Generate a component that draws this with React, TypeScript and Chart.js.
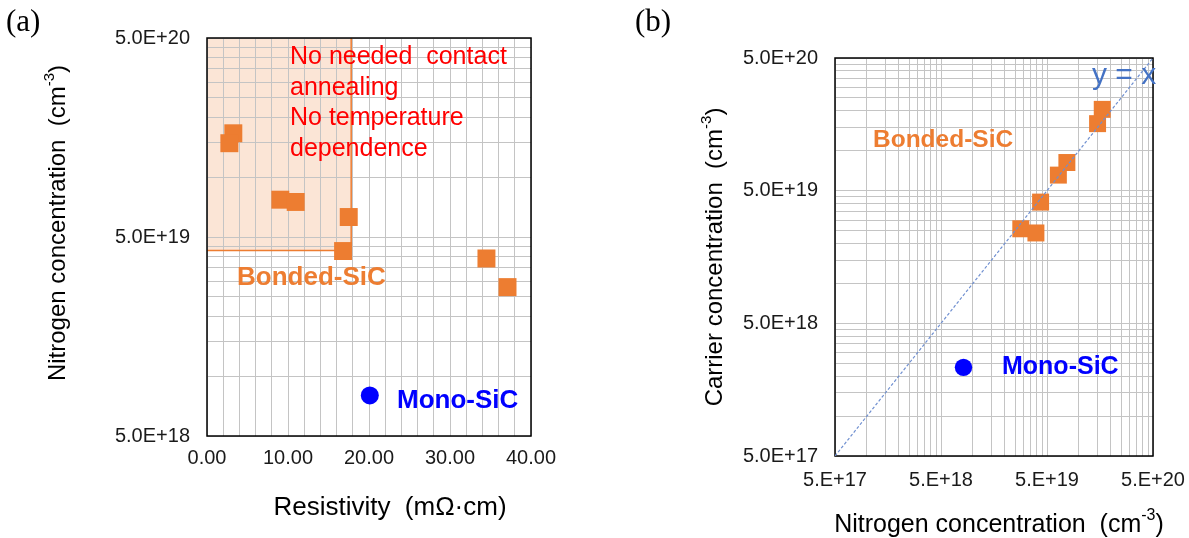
import React, { useEffect, useRef } from "react";
import { Chart, registerables } from "chart.js";

Chart.register(...registerables);

const FONT = "'Liberation Sans', Arial, Helvetica, sans-serif";
const SERIF = "'Liberation Serif', 'Times New Roman', serif";
const GRID = "#c4c4c4";
const TICK = "#1a1a1a";
const ORANGE = "#ED7D31";
const BLUE = "#0000FF";

// ---------- Panel (a) data ----------
const resistivityBonded = [3.25, 2.76, 9.05, 10.95, 17.5, 16.8, 34.5, 37.1];
const nitrogenBondedA = [1.66e20, 1.48e20, 7.7e19, 7.5e19, 6.3e19, 4.25e19, 3.9e19, 2.8e19];
const resistivityMono = [20.1];
const nitrogenMonoA = [8.0e18];
const shadeRegionA = [0, 17.8, 4.28e19, 5e20]; // xMin, xMax, yMin, yMax
const xTickValuesA = [0, 10, 20, 30, 40];
const xTickLabelsA = ["0.00", "10.00", "20.00", "30.00", "40.00"];
const yTickValuesA = [5e18, 5e19, 5e20];
const yTickLabelsA = ["5.0E+18", "5.0E+19", "5.0E+20"];
const noteLinesA = ["No needed  contact", "annealing", "No temperature", "dependence"];

// ---------- Panel (b) data ----------
const nitrogenBondedB = [1.66e20, 1.5e20, 7.7e19, 6.4e19, 4.35e19, 2.83e19, 3.93e19];
const carrierBonded = [2.05e20, 1.6e20, 8.15e19, 6.55e19, 4.1e19, 2.58e19, 2.4e19];
const nitrogenMonoB = [8.15e18];
const carrierMono = [2.33e18];
const identityLine = [5e17, 5e20];
const tickValuesB = [5e17, 5e18, 5e19, 5e20];
const xTickLabelsB = ["5.E+17", "5.E+18", "5.E+19", "5.E+20"];
const yTickLabelsB = ["5.0E+17", "5.0E+18", "5.0E+19", "5.0E+20"];

function logGrid(starts: number[]): number[] {
  const out: number[] = [];
  for (let i = 0; i < starts.length - 1; i++) {
    for (let k = 1; k <= 9; k++) out.push(starts[i] * k);
  }
  out.push(starts[starts.length - 1]);
  return out;
}

function labelFor(value: number, vals: number[], labels: string[]): string {
  const i = vals.findIndex((v) => Math.abs(value - v) <= 1e-6 * Math.max(Math.abs(v), 1));
  return i >= 0 ? labels[i] : "";
}

type Seg = { t: string; sup?: boolean };

function drawRich(
  ctx: CanvasRenderingContext2D,
  segs: Seg[],
  cx: number,
  cy: number,
  size: number,
  color: string,
  rotate: boolean
) {
  ctx.save();
  ctx.translate(cx, cy);
  if (rotate) ctx.rotate(-Math.PI / 2);
  const supSize = Math.round(size * 0.62);
  const widths = segs.map((s) => {
    ctx.font = `${s.sup ? supSize : size}px ${FONT}`;
    return ctx.measureText(s.t).width;
  });
  const total = widths.reduce((a, b) => a + b, 0);
  let x = -total / 2;
  ctx.fillStyle = color;
  ctx.textAlign = "left";
  ctx.textBaseline = "middle";
  segs.forEach((s, i) => {
    ctx.font = `${s.sup ? supSize : size}px ${FONT}`;
    ctx.fillText(s.t, x, s.sup ? -size * 0.36 : 0);
    x += widths[i];
  });
  ctx.restore();
}

function drawText(
  ctx: CanvasRenderingContext2D,
  text: string,
  x: number,
  y: number,
  font: string,
  color: string,
  baseline: CanvasTextBaseline = "middle"
) {
  ctx.save();
  ctx.font = font;
  ctx.fillStyle = color;
  ctx.textAlign = "left";
  ctx.textBaseline = baseline;
  ctx.fillText(text, x, y);
  ctx.restore();
}

function drawFrame(chart: any) {
  const { ctx, chartArea } = chart;
  ctx.save();
  ctx.strokeStyle = "#000";
  ctx.lineWidth = 1.5;
  ctx.strokeRect(chartArea.left, chartArea.top, chartArea.right - chartArea.left, chartArea.bottom - chartArea.top);
  ctx.restore();
}

const tickFont = { family: FONT, size: 20 };

export default function App() {
  const refA = useRef<HTMLCanvasElement | null>(null);
  const refB = useRef<HTMLCanvasElement | null>(null);

  useEffect(() => {
    const gridA = logGrid(yTickValuesA);
    const gridB = logGrid(tickValuesB);

    const pluginA = {
      id: "decorA",
      beforeDraw(chart: any) {
        const { ctx, scales } = chart;
        const x0 = scales.x.getPixelForValue(shadeRegionA[0]);
        const x1 = scales.x.getPixelForValue(shadeRegionA[1]);
        const y0 = scales.y.getPixelForValue(shadeRegionA[3]);
        const y1 = scales.y.getPixelForValue(shadeRegionA[2]);
        ctx.save();
        ctx.fillStyle = "#FBE5D6";
        ctx.fillRect(x0, y0, x1 - x0, y1 - y0);
        ctx.restore();
      },
      beforeDatasetsDraw(chart: any) {
        const { ctx, scales } = chart;
        const x0 = scales.x.getPixelForValue(shadeRegionA[0]);
        const x1 = scales.x.getPixelForValue(shadeRegionA[1]);
        const y0 = scales.y.getPixelForValue(shadeRegionA[3]);
        const y1 = scales.y.getPixelForValue(shadeRegionA[2]);
        ctx.save();
        ctx.strokeStyle = ORANGE;
        ctx.lineWidth = 1.5;
        ctx.beginPath();
        ctx.moveTo(x1, y0);
        ctx.lineTo(x1, y1);
        ctx.lineTo(x0, y1);
        ctx.stroke();
        ctx.restore();
        drawFrame(chart);
      },
      afterDraw(chart: any) {
        const ctx = chart.ctx;
        noteLinesA.forEach((line, i) => {
          drawText(ctx, line, 290, 57 + i * 30.7, `25px ${FONT}`, "#FF0000");
        });
        drawText(ctx, "Bonded-SiC", 237, 278, `bold 26px ${FONT}`, ORANGE);
        drawText(ctx, "Mono-SiC", 397, 401, `bold 26px ${FONT}`, BLUE);
        drawText(ctx, "(a)", 6, 23, `31px ${SERIF}`, "#000");
        drawRich(ctx, [{ t: "Nitrogen concentration  (cm" }, { t: "-3", sup: true }, { t: ")" }], 58, 223, 24, "#000", true);
        drawRich(ctx, [{ t: "Resistivity  (mΩ·cm)" }], 390, 508, 26, "#000", false);
      },
    };

    const pluginB = {
      id: "decorB",
      beforeDatasetsDraw(chart: any) {
        drawFrame(chart);
      },
      afterDraw(chart: any) {
        const ctx = chart.ctx;
        drawText(ctx, "Bonded-SiC", 273, 140, `bold 24.5px ${FONT}`, ORANGE);
        drawText(ctx, "Mono-SiC", 402, 367, `bold 25px ${FONT}`, BLUE);
        drawText(ctx, "y = x", 492, 84, `30px ${FONT}`, "#4472C4", "alphabetic");
        drawText(ctx, "(b)", 35, 23, `31px ${SERIF}`, "#000");
        drawRich(ctx, [{ t: "Carrier concentration  (cm" }, { t: "-3", sup: true }, { t: ")" }], 115, 257, 24, "#000", true);
        drawRich(ctx, [{ t: "Nitrogen concentration  (cm" }, { t: "-3", sup: true }, { t: ")" }], 399, 525, 25, "#000", false);
      },
    };

    const chartA = new Chart(refA.current as HTMLCanvasElement, {
      type: "scatter",
      data: {
        datasets: [
          {
            label: "Mono-SiC",
            data: resistivityMono.map((x, i) => ({ x, y: nitrogenMonoA[i] })),
            pointStyle: "circle",
            pointRadius: 9,
            backgroundColor: BLUE,
            borderColor: BLUE,
            borderWidth: 0,
          },
          {
            label: "Bonded-SiC",
            data: resistivityBonded.map((x, i) => ({ x, y: nitrogenBondedA[i] })),
            pointStyle: "rect",
            pointRadius: 12.7,
            backgroundColor: ORANGE,
            borderColor: ORANGE,
            borderWidth: 0,
          },
        ],
      },
      options: {
        responsive: false,
        animation: false,
        devicePixelRatio: 1,
        layout: { padding: { top: 38, right: 69, left: 0, bottom: 0 } },
        plugins: { legend: { display: false }, tooltip: { enabled: false } },
        scales: {
          x: {
            type: "linear",
            min: 0,
            max: 40,
            afterFit: (s: any) => {
              s.height = 102;
            },
            grid: { color: GRID, lineWidth: 1, drawTicks: false },
            border: { display: false },
            ticks: {
              stepSize: 2,
              autoSkip: false,
              maxRotation: 0,
              minRotation: 0,
              padding: 10,
              font: tickFont,
              color: TICK,
              callback: (v: any) => labelFor(Number(v), xTickValuesA, xTickLabelsA),
            },
          },
          y: {
            type: "logarithmic",
            min: 5e18,
            max: 5e20,
            afterBuildTicks: (s: any) => {
              s.ticks = gridA.map((v) => ({ value: v }));
            },
            afterFit: (s: any) => {
              s.width = 207;
            },
            grid: { color: GRID, lineWidth: 1, drawTicks: false },
            border: { display: false },
            ticks: {
              autoSkip: false,
              padding: 17,
              font: tickFont,
              color: TICK,
              callback: (v: any) => labelFor(Number(v), yTickValuesA, yTickLabelsA),
            },
          },
        },
      } as any,
      plugins: [pluginA],
    });

    const chartB = new Chart(refB.current as HTMLCanvasElement, {
      type: "scatter",
      data: {
        datasets: [
          {
            label: "y = x",
            data: identityLine.map((v) => ({ x: v, y: v })),
            showLine: true,
            borderColor: "#6F8FD0",
            borderWidth: 1.2,
            borderDash: [3, 2],
            pointRadius: 0,
            fill: false,
          },
          {
            label: "Mono-SiC",
            data: nitrogenMonoB.map((x, i) => ({ x, y: carrierMono[i] })),
            pointStyle: "circle",
            pointRadius: 8.7,
            backgroundColor: BLUE,
            borderColor: BLUE,
            borderWidth: 0,
          },
          {
            label: "Bonded-SiC",
            data: nitrogenBondedB.map((x, i) => ({ x, y: carrierBonded[i] })),
            pointStyle: "rect",
            pointRadius: 12,
            backgroundColor: ORANGE,
            borderColor: ORANGE,
            borderWidth: 0,
          },
        ],
      },
      options: {
        responsive: false,
        animation: false,
        devicePixelRatio: 1,
        layout: { padding: { top: 58, right: 44, left: 0, bottom: 0 } },
        plugins: { legend: { display: false }, tooltip: { enabled: false } },
        scales: {
          x: {
            type: "logarithmic",
            min: 5e17,
            max: 5e20,
            afterBuildTicks: (s: any) => {
              s.ticks = gridB.map((v) => ({ value: v }));
            },
            afterFit: (s: any) => {
              s.height = 82;
            },
            grid: { color: GRID, lineWidth: 1, drawTicks: false },
            border: { display: false },
            ticks: {
              autoSkip: false,
              maxRotation: 0,
              minRotation: 0,
              padding: 12,
              font: tickFont,
              color: TICK,
              callback: (v: any) => labelFor(Number(v), tickValuesB, xTickLabelsB),
            },
          },
          y: {
            type: "logarithmic",
            min: 5e17,
            max: 5e20,
            afterBuildTicks: (s: any) => {
              s.ticks = gridB.map((v) => ({ value: v }));
            },
            afterFit: (s: any) => {
              s.width = 235;
            },
            grid: { color: GRID, lineWidth: 1, drawTicks: false },
            border: { display: false },
            ticks: {
              autoSkip: false,
              padding: 17,
              font: tickFont,
              color: TICK,
              callback: (v: any) => labelFor(Number(v), tickValuesB, yTickLabelsB),
            },
          },
        },
      } as any,
      plugins: [pluginB],
    });

    return () => {
      chartA.destroy();
      chartB.destroy();
    };
  }, []);

  return (
    <div
      style={{
        position: "absolute",
        left: 0,
        top: 0,
        width: 1189,
        height: 538,
        background: "#fff",
        overflow: "hidden",
      }}
    >
      <canvas ref={refA} width={600} height={538} style={{ position: "absolute", left: 0, top: 0 }} />
      <canvas ref={refB} width={597} height={538} style={{ position: "absolute", left: 600, top: 0 }} />
    </div>
  );
}
